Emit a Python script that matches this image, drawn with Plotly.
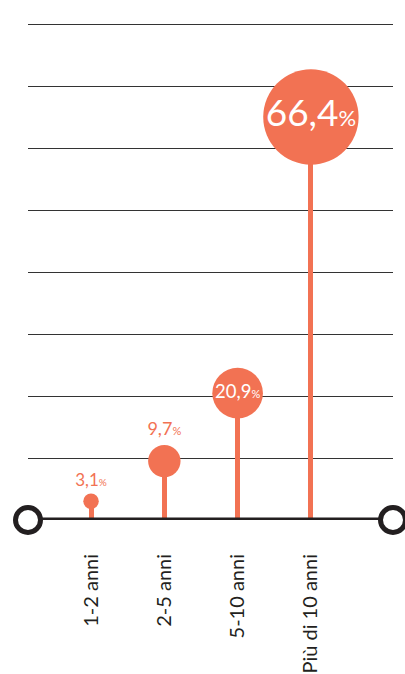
import numpy as np
import plotly.graph_objects as go

categories = ["1-2 anni", "2-5 anni", "5-10 anni", "Più di 10 anni"]
values = [3.1, 9.7, 20.9, 66.4]
value_labels = ["3,1", "9,7", "20,9", "66,4"]

ORANGE = "#F27253"
DARK = "#231F20"
FONT = "Lato"

x = list(range(1, len(categories) + 1))
diam = [12.5 * np.sqrt(v) - 6.5 for v in values]
inside = [v > 15 for v in values]
label_sizes = [17, 18, 18.5, 37]

texts = []
for lab, s in zip(value_labels, label_sizes):
    texts.append(f"{lab}<span style='font-size:{round(s*0.6)}px'>%</span>")

XR = [0.14, 5.12]
YR = [0, 85.67]

fig = go.Figure()

# stems
fig.add_trace(go.Bar(
    x=x, y=values, width=0.068, marker=dict(color=ORANGE, line=dict(width=0)),
    opacity=1, hoverinfo="skip", showlegend=False,
))

# baseline with hollow end circles
fig.add_trace(go.Scatter(
    x=XR, y=[0, 0], mode="lines+markers",
    line=dict(color=DARK, width=5),
    marker=dict(size=25, color="white", opacity=1, line=dict(color=DARK, width=5)),
    cliponaxis=False, hoverinfo="skip", showlegend=False,
))

# lollipop heads
fig.add_trace(go.Scatter(
    x=x, y=values, mode="markers+text",
    marker=dict(size=diam, color=ORANGE, opacity=1, line=dict(width=0)),
    text=texts,
    textposition=["middle center" if i else "top center" for i in inside],
    textfont=dict(family=FONT, size=label_sizes,
                  color=["white" if i else ORANGE for i in inside]),
    cliponaxis=False, hoverinfo="skip", showlegend=False,
))

fig.update_layout(
    width=405, height=674,
    margin=dict(l=0, r=0, t=0, b=154),
    paper_bgcolor="white", plot_bgcolor="white",
    bargap=0,
    xaxis=dict(
        range=XR, domain=[28 / 405, 393 / 405],
        tickvals=x, ticktext=categories, tickangle=-90,
        ticks="", ticklabelstandoff=29, showgrid=False, zeroline=False,
        showline=False, tickfont=dict(family=FONT, size=20, color=DARK),
    ),
    yaxis=dict(
        range=YR, dtick=10.2, tick0=0, showgrid=True, gridcolor="#333333",
        gridwidth=1, zeroline=False, showticklabels=False, ticks="",
        showline=False,
    ),
)

fig.write_html(
    "out.html",
    config={"displayModeBar": False, "staticPlot": True},
    post_script="document.body.style.margin='0';document.body.style.overflow='hidden';",
)
